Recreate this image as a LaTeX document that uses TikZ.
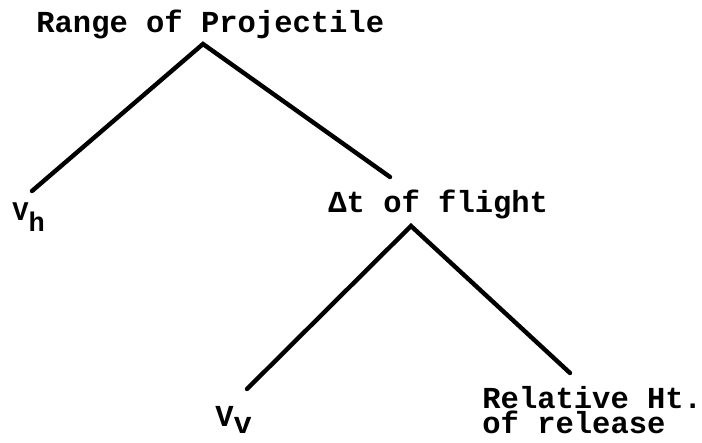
\documentclass[tikz,border=0pt]{standalone}
\usepackage{fontspec}
\setmonofont{Liberation Mono}
\usepackage{tikz}
\usetikzlibrary{
	positioning,
	calc
}

\begin{document}
\begin{tikzpicture}[
		x=0.5pt,
		y=-0.5pt,
		word/.style={
			font=\ttfamily\bfseries\fontsize{15.25}{13}\selectfont,
			inner sep=0pt,
			anchor=base west
		},
		speed/.style={
			font=\ttfamily\bfseries\fontsize{13.5}{14}\selectfont,
			inner sep=0pt,
			anchor=base west
		},
		branch/.style={
			line width=2.2pt,
			line cap=round,
			line join=miter
		}
		]
		
		\useasboundingbox (0,0) rectangle (702,443);
		
		% Top
		\node[word] (range) at (36,33) {Range of Projectile};
		
		% Middle
		\node[speed] (vh) at (12,221) {V\raisebox{-5.5pt}{h}};
		\node[word] (flight) at (328,213) {Δt of flight};
		
		% Bottom
		\node[word] (vv) at (215,427) {V\raisebox{-3pt}{v}};
		\node[word,align=left] (release) at (482,434) {Relative Ht.\\of release};
		
		% Branches
		\draw[branch]
		([shift={(20,-30)}]vh.base west)
		-- ([shift={(167,11)}]range.base west)
		-- ([shift={(62,-36)}]flight.base west);
		
		\draw[branch]
		([shift={(32,-38)}]vv.base west)
		-- ([shift={(83,13)}]flight.base west)
		-- ([shift={(88,-61)}]release.base west);
		
	\end{tikzpicture}
\end{document}
